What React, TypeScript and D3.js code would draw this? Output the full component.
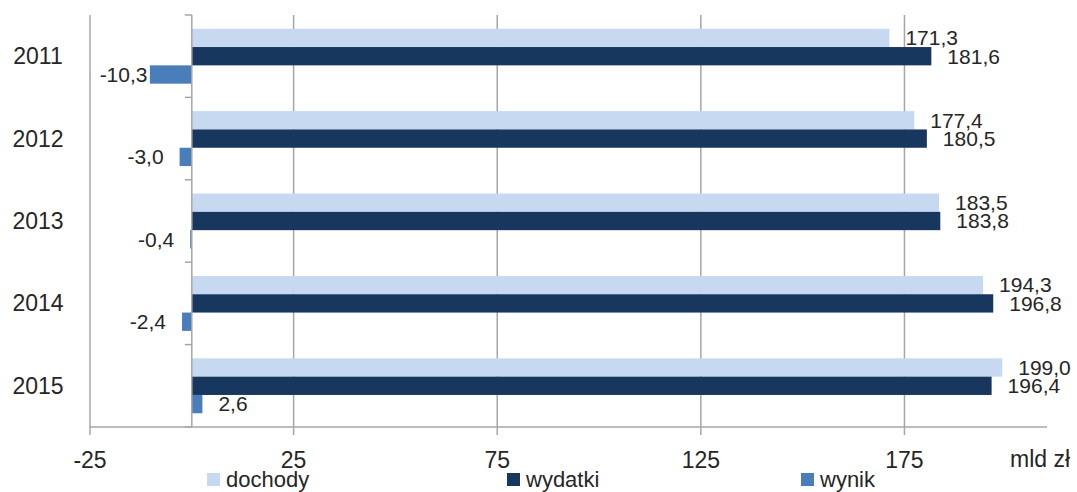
import React from "react";
import * as d3 from "d3";

const years = ["2011", "2012", "2013", "2014", "2015"];
const seriesNames = ["dochody", "wydatki", "wynik"];
const dochody = [171.3, 177.4, 183.5, 194.3, 199.0];
const wydatki = [181.6, 180.5, 183.8, 196.8, 196.4];
const wynik = [-10.3, -3.0, -0.4, -2.4, 2.6];
const xTicks = [-25, 25, 75, 125, 175];
const colors = ["#C6D9F1", "#17375E", "#4A7EBB"];
const unitLabel = "mld zł";

const W = 1077;
const H = 492;
const FONT = "'Liberation Sans', Arial, sans-serif";
const TXT = "#262626";
const GRID = "#A6A6A6";

const fmt = (v: number) => v.toFixed(1).replace(".", ",");

export default function App() {
  const x = d3.scaleLinear().domain([-25, 210]).range([90, 1047]);
  const y = d3.scaleBand<string>().domain(years).range([15, 427]).paddingInner(0).paddingOuter(0);
  const inner = d3
    .scaleBand<string>()
    .domain(seriesNames)
    .range([0, y.bandwidth()])
    .paddingInner(0)
    .paddingOuter(0.75);
  const values = [dochody, wydatki, wynik];
  const top = 15;
  const bottom = 427;
  const x0 = x(0);
  const legendX = [207, 507, 801];
  const labelFs = 21;

  return (
    <svg width={W} height={H} style={{ position: "absolute", left: 0, top: 0 }} fontFamily={FONT}>
      <rect width={W} height={H} fill="#fff" />
      {/* gridlines */}
      {xTicks.map((t) => (
        <line key={"g" + t} x1={x(t)} x2={x(t)} y1={top} y2={bottom + 8} stroke={GRID} strokeWidth={1.5} />
      ))}
      {/* bottom axis */}
      <line x1={x(-25)} x2={x(210)} y1={bottom} y2={bottom} stroke={GRID} strokeWidth={1.5} />
      {/* bars */}
      {years.map((yr, i) =>
        seriesNames.map((s, k) => {
          const v = values[k][i];
          const by = (y(yr) as number) + (inner(s) as number);
          const bh = inner.bandwidth();
          return (
            <rect
              key={yr + s}
              x={Math.min(x(v), x0)}
              y={by}
              width={Math.abs(x(v) - x0)}
              height={bh}
              fill={colors[k]}
            />
          );
        })
      )}
      {/* zero axis */}
      <line x1={x0} x2={x0} y1={top} y2={bottom} stroke={GRID} strokeWidth={1.5} />
      {years.concat(["end"]).map((yr, i) => {
        const yy = i < years.length ? (y(yr) as number) : bottom;
        return <line key={"t" + i} x1={x0 - 7} x2={x0} y1={yy} y2={yy} stroke={GRID} strokeWidth={1.5} />;
      })}
      {/* data labels */}
      {years.map((yr, i) =>
        seriesNames.map((s, k) => {
          const v = values[k][i];
          const cy = (y(yr) as number) + (inner(s) as number) + inner.bandwidth() / 2;
          const txt = fmt(v);
          if (v >= 0) {
            return (
              <text key={"l" + yr + s} x={x(v) + 16} y={cy} dy="0.35em" fontSize={labelFs} fill={TXT}>
                {txt}
              </text>
            );
          }
          const estW = txt.length * 0.5 * labelFs;
          let lx = x(v) - 16;
          if (lx - estW < x(-25) + 4) lx = x(-25) + 5 + estW;
          return (
            <text key={"l" + yr + s} x={lx} y={cy} dy="0.35em" fontSize={labelFs} fill={TXT} textAnchor="end">
              {txt}
            </text>
          );
        })
      )}
      {/* category labels */}
      {years.map((yr) => (
        <text
          key={"c" + yr}
          x={38}
          y={(y(yr) as number) + y.bandwidth() / 2}
          dy="0.35em"
          fontSize={23}
          fill={TXT}
          textAnchor="middle"
        >
          {yr}
        </text>
      ))}
      {/* x tick labels */}
      {xTicks.map((t) => (
        <text key={"xl" + t} x={x(t)} y={468} fontSize={23} fill={TXT} textAnchor="middle">
          {t}
        </text>
      ))}
      <text x={1010} y={467} fontSize={23} fill={TXT}>
        {unitLabel}
      </text>
      {/* legend */}
      {seriesNames.map((s, k) => (
        <g key={"lg" + s}>
          <rect x={legendX[k]} y={473} width={13} height={13} fill={colors[k]} />
          <text x={legendX[k] + 19} y={487} fontSize={22} fill={TXT}>
            {s}
          </text>
        </g>
      ))}
    </svg>
  );
}
